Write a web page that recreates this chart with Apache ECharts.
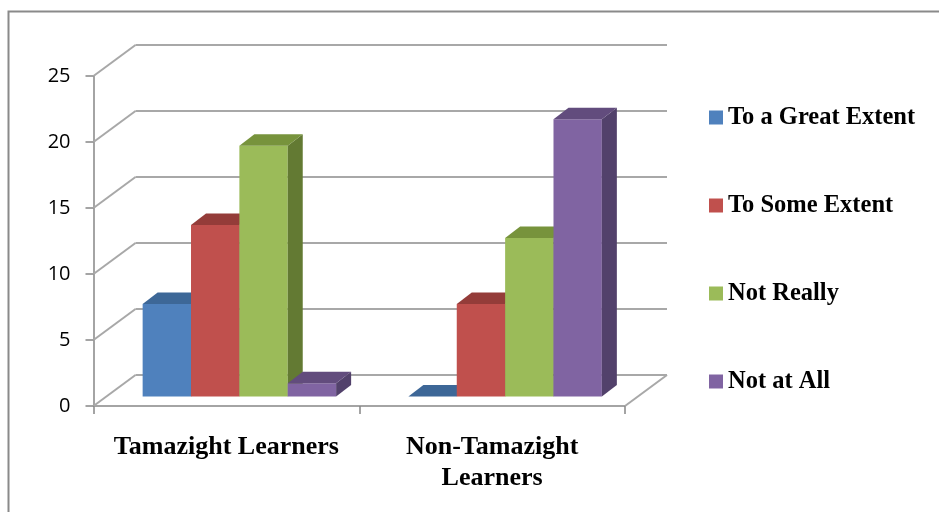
<!DOCTYPE html>
<html>
<head>
<meta charset="utf-8">
<title>Tamazight Learners vs Non-Tamazight Learners</title>
<script src="https://cdn.jsdelivr.net/npm/echarts@6/dist/echarts.min.js"></script>
<style>
  html, body { margin: 0; padding: 0; background: #ffffff; }
  #chart { width: 939px; height: 512px; }
</style>
</head>
<body>
<div id="chart"></div>
<script>
// Survey responses per learner group
const categories = ['Tamazight Learners', 'Non-Tamazight\nLearners'];
const seriesNames = ['To a Great Extent', 'To Some Extent', 'Not Really', 'Not at All'];
const greatExtent = [7, 0];
const someExtent = [13, 7];
const notReally = [19, 12];
const notAtAll = [1, 21];
const yTicks = [0, 5, 10, 15, 20, 25];

// Face colours for each series: front, top, side
const palette = [
  { front: '#4F81BD', top: '#3d6797', side: '#345a86' },
  { front: '#C0504D', top: '#943c39', side: '#8a3634' },
  { front: '#9BBB59', top: '#77933c', side: '#637a33' },
  { front: '#8064A2', top: '#624c7d', side: '#52416b' }
];

// Oblique depth of the plot box and of the bars (pixels)
const WALL_DX = 42, WALL_DY = -31;
const BAR_FX = 13, BAR_FY = -9.5;
const BAR_DX = 15, BAR_DY = -11.5;
const BAR_FRAC = 0.182;

const chart = echarts.init(document.getElementById('chart'), null, { renderer: 'canvas' });

// Back wall grid lines, left wall diagonals and floor edge
function renderWalls(params, api) {
  const cs = params.coordSys;
  const xL = cs.x, xR = cs.x + cs.width;
  const children = [];
  const lineStyle = { stroke: '#a8a8a8', lineWidth: 2 };
  yTicks.forEach(function (v) {
    const y = api.coord([0, v])[1];
    children.push({
      type: 'line',
      shape: { x1: xL + WALL_DX, y1: y + WALL_DY, x2: xR + WALL_DX, y2: y + WALL_DY },
      style: lineStyle
    });
    children.push({
      type: 'line',
      shape: { x1: xL, y1: y, x2: xL + WALL_DX, y2: y + WALL_DY },
      style: lineStyle
    });
  });
  const y0 = api.coord([0, yTicks[0]])[1];
  children.push({
    type: 'line',
    shape: { x1: xR, y1: y0, x2: xR + WALL_DX, y2: y0 + WALL_DY },
    style: lineStyle
  });
  return { type: 'group', children: children };
}

function makeBarRenderer(idx) {
  const pal = palette[idx];
  return function (params, api) {
    const cat = api.value(0);
    const val = api.value(1);
    const base = api.coord([cat, 0]);
    const top = api.coord([cat, val]);
    const band = api.size([1, 0])[0];
    const w = band * BAR_FRAC;
    const x0 = base[0] - 2 * w + idx * w + BAR_FX;
    const x1 = x0 + w;
    const yb = base[1] + BAR_FY;
    const yt = top[1] + BAR_FY;
    const children = [];
    if (yb - yt > 0.1) {
      children.push({
        type: 'rect',
        shape: { x: x0, y: yt, width: w, height: yb - yt },
        style: { fill: pal.front }
      });
      children.push({
        type: 'polygon',
        shape: { points: [[x1, yt], [x1 + BAR_DX, yt + BAR_DY], [x1 + BAR_DX, yb + BAR_DY], [x1, yb]] },
        style: { fill: pal.side }
      });
    }
    children.push({
      type: 'polygon',
      shape: { points: [[x0, yt], [x1, yt], [x1 + BAR_DX, yt + BAR_DY], [x0 + BAR_DX, yt + BAR_DY]] },
      style: { fill: pal.top }
    });
    return { type: 'group', children: children };
  };
}

const seriesValues = [greatExtent, someExtent, notReally, notAtAll];

const barSeries = seriesValues.map(function (vals, i) {
  return {
    name: seriesNames[i],
    type: 'custom',
    z: 3,
    clip: false,
    itemStyle: { color: palette[i].front },
    renderItem: makeBarRenderer(i),
    encode: { x: 0, y: 1 },
    data: vals.map(function (v, c) { return [c, v]; })
  };
});

const option = {
  backgroundColor: '#ffffff',
  animation: false,
  grid: { left: 93.5, top: 76, width: 531.5, height: 330, containLabel: false },
  legend: {
    orient: 'vertical',
    left: 709,
    top: 105,
    padding: 0,
    itemGap: 63,
    itemWidth: 14,
    itemHeight: 14,
    icon: 'rect',
    data: seriesNames,
    textStyle: {
      fontFamily: 'Liberation Serif',
      fontWeight: 'bold',
      fontSize: 24.5,
      lineHeight: 25,
      color: '#000000'
    }
  },
  xAxis: {
    type: 'category',
    data: categories,
    boundaryGap: true,
    axisLine: { show: true, lineStyle: { color: '#868686', width: 1.5 } },
    axisTick: { show: true, interval: 0, length: 8, lineStyle: { color: '#868686', width: 1.5 } },
    axisLabel: {
      interval: 0,
      margin: 26,
      fontFamily: 'Liberation Serif',
      fontWeight: 'bold',
      fontSize: 26,
      lineHeight: 31,
      color: '#000000'
    },
    splitLine: { show: false }
  },
  yAxis: {
    type: 'value',
    min: 0,
    max: 25,
    interval: 5,
    axisLine: { show: true, lineStyle: { color: '#868686', width: 1.5 } },
    axisTick: { show: true, length: 8, lineStyle: { color: '#868686', width: 1.5 } },
    axisLabel: {
      margin: 23,
      fontFamily: 'Open Sans',
      fontSize: 20,
      lineHeight: 20,
      color: '#000000',
      padding: [14, 0, 0, 0]
    },
    splitLine: { show: false }
  },
  graphic: [{
    type: 'rect',
    shape: { x: 8.5, y: 11.5, width: 1000, height: 1000 },
    style: { fill: 'none', stroke: '#8a8a8a', lineWidth: 2 },
    silent: true,
    z: 0
  }],
  series: [{
    name: 'walls',
    type: 'custom',
    z: 1,
    clip: false,
    silent: true,
    renderItem: renderWalls,
    encode: { x: 0, y: 1 },
    data: [[0, 0]]
  }].concat(barSeries)
};

chart.setOption(option);
</script>
</body>
</html>
